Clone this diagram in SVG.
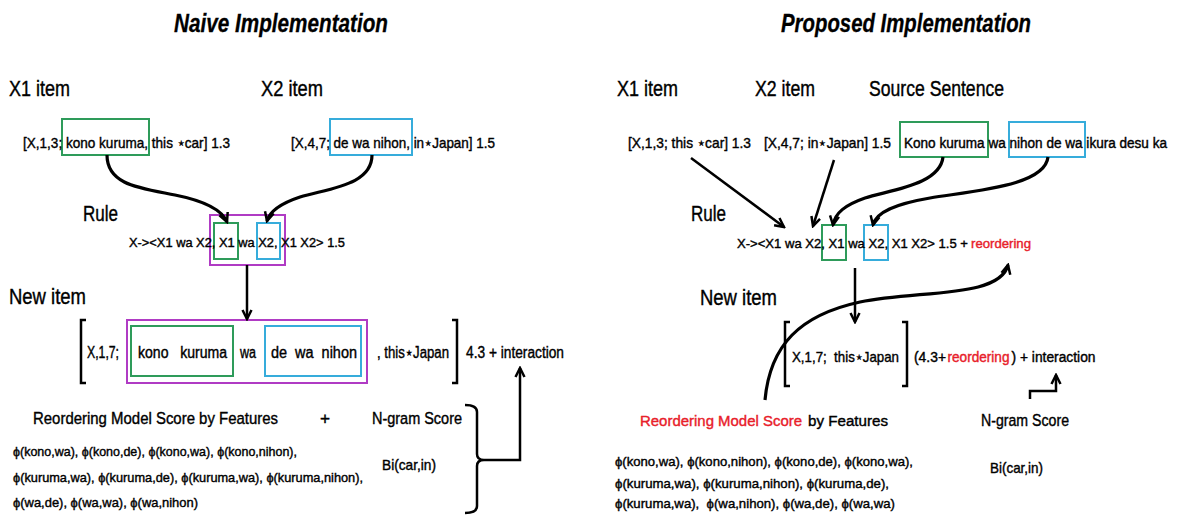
<svg xmlns="http://www.w3.org/2000/svg" width="1178" height="515" viewBox="0 0 1178 515">
<defs>
<style>
text{font-family:"Liberation Sans",Arial,sans-serif;fill:#000;stroke:#000;stroke-width:0.4px;white-space:pre}
.ti{font-size:25px;font-weight:bold;font-style:italic;stroke-width:0.3px}
.h{font-size:22px}
.h2{font-size:17.2px}
.h3{font-size:15.5px}
.s{font-size:15px}
.r{font-size:13.2px}
.m{font-size:16px}
.n{font-size:14px}
.p{font-size:13px}
.red{fill:#e8202a;stroke:#e8202a}
.g{fill:none;stroke:#2e9b5a;stroke-width:2}
.b{fill:none;stroke:#36acdb;stroke-width:2}
.mg{fill:none;stroke:#b03bc4;stroke-width:2}
.br{fill:none;stroke:#000;stroke-width:2.5}
.c{fill:none;stroke:#000;stroke-width:3.2}
.l{fill:none;stroke:#000;stroke-width:2.5}
</style>
<marker id="ah" viewBox="0 0 12 12" refX="10" refY="6" markerWidth="12" markerHeight="12" markerUnits="userSpaceOnUse" orient="auto">
<path d="M1,1.5 L10,6 L1,10.5" fill="none" stroke="#000" stroke-width="2.5"/>
</marker>
</defs>
<rect width="1178" height="515" fill="#fff"/>

<!-- LEFT: Naive Implementation -->
<g id="title-naive"><text class="ti" x="174" y="32" textLength="214" lengthAdjust="spacingAndGlyphs">Naive Implementation</text></g>
<g id="naive-x1-label"><text class="h" x="9" y="96" textLength="61" lengthAdjust="spacingAndGlyphs">X1 item</text></g>
<g id="naive-x2-label"><text class="h" x="261" y="96" textLength="62" lengthAdjust="spacingAndGlyphs">X2 item</text></g>
<g id="naive-x1-item">
<rect class="g" x="62" y="119" width="87" height="36"/>
<text class="s" x="23" y="148" textLength="207" lengthAdjust="spacingAndGlyphs">[X,1,3; kono kuruma, this ⋆car] 1.3</text>
</g>
<g id="naive-x2-item">
<rect class="b" x="330" y="119" width="82" height="36"/>
<text class="s" x="291" y="148" textLength="204" lengthAdjust="spacingAndGlyphs">[X,4,7; de wa nihon, in⋆Japan] 1.5</text>
</g>
<g id="naive-rule-label"><text class="h" x="83" y="221" textLength="35" lengthAdjust="spacingAndGlyphs">Rule</text></g>
<g id="naive-rule">
<rect class="mg" x="210" y="215" width="75" height="50"/>
<rect class="g" x="214" y="223" width="24" height="36"/>
<rect class="b" x="257" y="223" width="23" height="36"/>
<text class="r" x="129" y="247" textLength="216" lengthAdjust="spacingAndGlyphs">X-&gt;&lt;X1 wa X2, X1 wa X2, X1 X2&gt; 1.5</text>
</g>
<g id="naive-new-label"><text class="h" x="9" y="304" textLength="77" lengthAdjust="spacingAndGlyphs">New item</text></g>
<g id="naive-new-item">
<path class="br" d="M86,320 L81,320 L81,383 L86,383"/>
<path class="br" d="M452,320 L457,320 L457,383 L452,383"/>
<rect class="mg" x="127" y="320" width="240" height="63"/>
<rect class="g" x="131" y="326" width="102" height="50"/>
<rect class="b" x="265" y="326" width="96" height="50"/>
<text class="m" x="87" y="358" textLength="32" lengthAdjust="spacingAndGlyphs">X,1,7;</text>
<text class="m" x="138" y="358" textLength="89" lengthAdjust="spacingAndGlyphs">kono   kuruma</text>
<text class="m" x="240" y="358" textLength="16" lengthAdjust="spacingAndGlyphs">wa</text>
<text class="m" x="271" y="358" textLength="86" lengthAdjust="spacingAndGlyphs">de  wa  nihon</text>
<text class="m" x="377" y="358" textLength="72" lengthAdjust="spacingAndGlyphs">, this⋆Japan</text>
<text class="m" x="466" y="358" textLength="98" lengthAdjust="spacingAndGlyphs">4.3 + interaction</text>
</g>
<g id="naive-reordering">
<text class="h2" x="33" y="424" textLength="245" lengthAdjust="spacingAndGlyphs">Reordering Model Score by Features</text>
<text class="p" x="13" y="456" textLength="284" lengthAdjust="spacingAndGlyphs">ϕ(kono,wa), ϕ(kono,de), ϕ(kono,wa), ϕ(kono,nihon),</text>
<text class="p" x="13" y="482" textLength="350" lengthAdjust="spacingAndGlyphs">ϕ(kuruma,wa), ϕ(kuruma,de), ϕ(kuruma,wa), ϕ(kuruma,nihon),</text>
<text class="p" x="13" y="507" textLength="185" lengthAdjust="spacingAndGlyphs">ϕ(wa,de), ϕ(wa,wa), ϕ(wa,nihon)</text>
</g>
<g id="naive-plus"><text class="h2" x="320" y="424">+</text></g>
<g id="naive-ngram">
<text class="h2" x="372" y="424" textLength="90" lengthAdjust="spacingAndGlyphs">N-gram Score</text>
<text class="s" x="382" y="470" textLength="54" lengthAdjust="spacingAndGlyphs">Bi(car,in)</text>
</g>

<!-- RIGHT: Proposed Implementation -->
<g id="title-proposed"><text class="ti" x="781" y="32" textLength="250" lengthAdjust="spacingAndGlyphs">Proposed Implementation</text></g>
<g id="prop-x1-label"><text class="h" x="617" y="96" textLength="61" lengthAdjust="spacingAndGlyphs">X1 item</text></g>
<g id="prop-x2-label"><text class="h" x="755" y="96" textLength="60" lengthAdjust="spacingAndGlyphs">X2 item</text></g>
<g id="prop-source-label"><text class="h" x="869" y="96" textLength="135" lengthAdjust="spacingAndGlyphs">Source Sentence</text></g>
<g id="prop-x1-item"><text class="s" x="628" y="148" textLength="123" lengthAdjust="spacingAndGlyphs">[X,1,3; this ⋆car] 1.3</text></g>
<g id="prop-x2-item"><text class="s" x="764" y="148" textLength="127" lengthAdjust="spacingAndGlyphs">[X,4,7; in⋆Japan] 1.5</text></g>
<g id="prop-source">
<rect class="g" x="900" y="122" width="88" height="35"/>
<rect class="b" x="1009" y="122" width="76" height="35"/>
<text x="904" y="148" font-size="14" textLength="263" lengthAdjust="spacingAndGlyphs">Kono kuruma wa nihon de wa ikura desu ka</text>
</g>
<g id="prop-rule-label"><text class="h" x="691" y="221" textLength="35" lengthAdjust="spacingAndGlyphs">Rule</text></g>
<g id="prop-rule">
<rect class="g" x="822" y="225" width="24" height="35"/>
<rect class="b" x="864" y="225" width="24" height="35"/>
<text class="r" x="737" y="248" textLength="231" lengthAdjust="spacingAndGlyphs">X-&gt;&lt;X1 wa X2, X1 wa X2, X1 X2&gt; 1.5 +</text>
<text class="r red" x="971" y="248" textLength="60" lengthAdjust="spacingAndGlyphs">reordering</text>
</g>
<g id="prop-new-label"><text class="h" x="700" y="305" textLength="77" lengthAdjust="spacingAndGlyphs">New item</text></g>
<g id="prop-new-item">
<path class="br" d="M790,322 L785,322 L785,386 L790,386"/>
<path class="br" d="M902,322 L907,322 L907,386 L902,386"/>
<text x="792" y="362" font-size="15" textLength="107" lengthAdjust="spacingAndGlyphs">X,1,7;  this⋆Japan</text>
<text class="n" x="914" y="362" textLength="32" lengthAdjust="spacingAndGlyphs">(4.3+</text>
<text class="n red" x="947.5" y="362" textLength="62" lengthAdjust="spacingAndGlyphs">reordering</text>
<text class="n" x="1011.5" y="362" textLength="84" lengthAdjust="spacingAndGlyphs">) + interaction</text>
</g>
<g id="prop-reordering">
<text class="h3 red" x="640" y="426" textLength="162" lengthAdjust="spacingAndGlyphs">Reordering Model Score</text>
<text class="h3" x="808" y="426" textLength="80" lengthAdjust="spacingAndGlyphs">by Features</text>
<text class="p" x="615" y="466" textLength="298" lengthAdjust="spacingAndGlyphs">ϕ(kono,wa), ϕ(kono,nihon), ϕ(kono,de), ϕ(kono,wa),</text>
<text class="p" x="615" y="488" textLength="274" lengthAdjust="spacingAndGlyphs">ϕ(kuruma,wa), ϕ(kuruma,nihon), ϕ(kuruma,de),</text>
<text class="p" x="615" y="508" textLength="280" lengthAdjust="spacingAndGlyphs">ϕ(kuruma,wa),  ϕ(wa,nihon), ϕ(wa,de), ϕ(wa,wa)</text>
</g>
<g id="prop-ngram">
<text class="h2" x="981" y="426" textLength="88" lengthAdjust="spacingAndGlyphs">N-gram Score</text>
<text class="s" x="990" y="473" textLength="53" lengthAdjust="spacingAndGlyphs">Bi(car,in)</text>
</g>

<!-- Connectors -->
<g id="connectors">
<path class="c" d="M107,155 C107,185 140,188 175,195 C205,201 222,210 227,222" marker-end="url(#ah)"/>
<path class="c" d="M372,155 C372,185 330,188 300,197 C282,203 270,210 267,221" marker-end="url(#ah)"/>
<path class="l" d="M247,265 L247,319" marker-end="url(#ah)"/>
<path class="br" d="M465,405 Q477,405 477,412 L477,454 Q477,460 484,460 Q477,460 477,466 L477,506 Q477,513 465,513"/>
<path class="l" d="M484,460 L520,460 L520,368" marker-end="url(#ah)"/>

<path class="l" d="M691,158 L784,227" marker-end="url(#ah)"/>
<path class="l" d="M834,160 L813,226" marker-end="url(#ah)"/>
<path class="c" d="M943,157 C940,185 890,190 865,198 C845,205 835,213 833,225" marker-end="url(#ah)"/>
<path class="c" d="M1048,157 C1045,185 980,190 930,198 C895,204 876,212 873,225" marker-end="url(#ah)"/>
<path class="l" d="M855,268 L855,322" marker-end="url(#ah)"/>
<path class="c" d="M765,400 C770,345 800,315 860,302 C920,290 1000,298 1008,265" marker-end="url(#ah)"/>
<path class="l" d="M1030,399 L1030,391 L1056,391 L1056,375" marker-end="url(#ah)"/>
</g>
</svg>
